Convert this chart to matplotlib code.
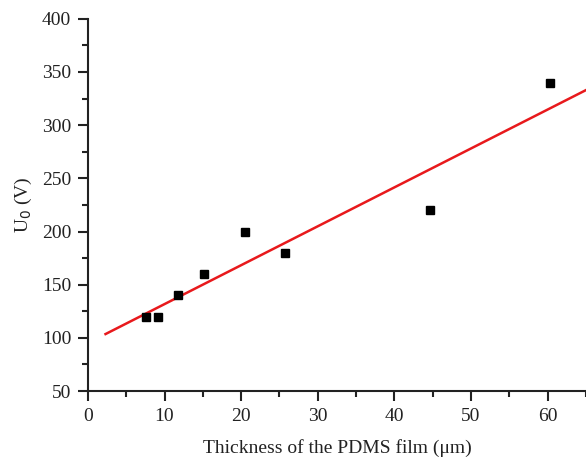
import numpy as np
import matplotlib
matplotlib.use("Agg")
import matplotlib.pyplot as plt
from matplotlib.ticker import MultipleLocator

# measured points
thickness = [7.6, 9.1, 11.7, 15.2, 20.5, 25.7, 44.7, 60.3]
u0 = [120, 120, 140, 160, 200, 180, 220, 340]

# fitted line
fit_x = [2.3, 65.0]
fit_y = [103.6, 333.0]

plt.rcParams['font.family'] = ['Liberation Serif', 'DejaVu Serif']

fig = plt.figure(figsize=(5.86, 4.59), dpi=100)
ax = fig.add_axes([0.150, 0.148, 0.85, 0.811])

ax.plot(fit_x, fit_y, color='#e8191c', lw=1.8, zorder=2)
ax.plot(thickness, u0, 's', color='black', ms=6, zorder=3)

ax.set_xlim(0, 65)
ax.set_ylim(50, 400)
ax.xaxis.set_major_locator(MultipleLocator(10))
ax.xaxis.set_minor_locator(MultipleLocator(5))
ax.yaxis.set_major_locator(MultipleLocator(50))
ax.yaxis.set_minor_locator(MultipleLocator(25))

for s in ['top', 'right']:
    ax.spines[s].set_visible(False)
for s in ['left', 'bottom']:
    ax.spines[s].set_linewidth(1.5)
    ax.spines[s].set_color('#222222')

ax.tick_params(which='major', direction='out', length=7, width=1.5,
               labelsize=14, colors='#222222', pad=5)
ax.tick_params(which='minor', direction='out', length=4, width=1.5,
               colors='#222222')

ax.set_xlabel("Thickness of the PDMS film (\u03bcm)", fontsize=14,
              color='#222222', labelpad=10)
ax.set_ylabel("U$_0$ (V)", fontsize=14, color='#222222', labelpad=6)

fig.savefig("out.png", dpi=100)
